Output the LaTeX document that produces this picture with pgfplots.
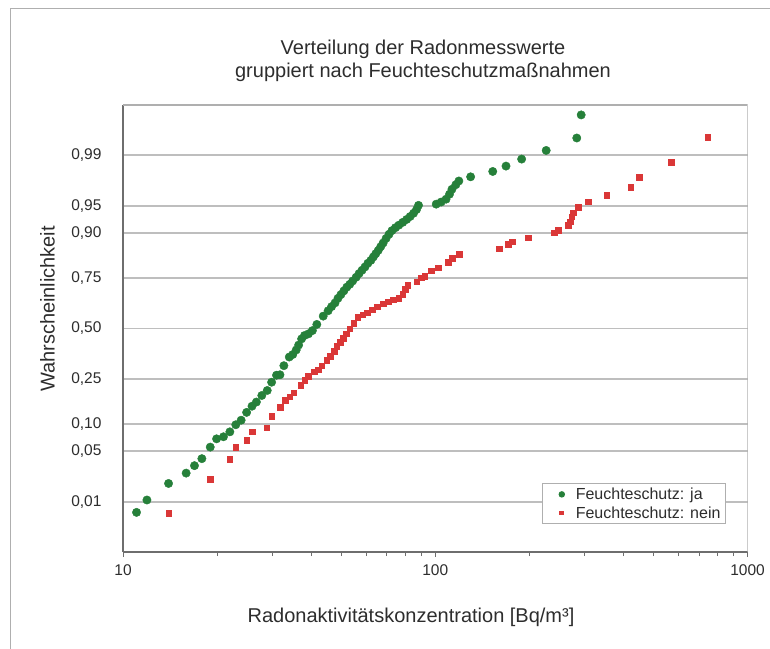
\documentclass[border=0pt]{standalone}
\usepackage{pgfplots}
\pgfplotsset{compat=1.18}
\usepackage{pgfplotstable}
\usepackage{fontspec}
\setmainfont{Liberation Sans}

\definecolor{gruen}{RGB}{38,128,58}
\definecolor{rot}{RGB}{218,55,55}
\definecolor{gitter}{RGB}{190,190,190}
\definecolor{achse}{RGB}{110,110,110}
\definecolor{rahmen}{RGB}{175,175,175}
\definecolor{schrift}{RGB}{45,45,45}

% x: Radonkonzentration [Bq/m3], z: Normalquantil der Wahrscheinlichkeit
\pgfplotstableread{
x z
11.05 -2.468
11.93 -2.302
13.99 -2.080
15.93 -1.941
16.94 -1.841
17.89 -1.747
19.03 -1.592
19.94 -1.481
20.98 -1.453
21.99 -1.387
22.97 -1.292
23.90 -1.231
24.88 -1.126
25.89 -1.043
26.74 -0.987
27.83 -0.899
28.97 -0.832
29.92 -0.721
31.02 -0.627
31.82 -0.621
32.75 -0.499
34.08 -0.383
34.97 -0.349
35.87 -0.288
36.52 -0.222
37.33 -0.139
38.14 -0.094
39.26 -0.072
40.42 -0.028
41.76 0.055
43.77 0.166
45.39 0.238
46.56 0.294
47.76 0.344
48.80 0.405
49.87 0.455
50.97 0.505
52.09 0.555
53.23 0.593
54.40 0.638
55.80 0.688
57.02 0.738
58.28 0.782
59.56 0.826
60.86 0.876
62.21 0.915
63.34 0.960
64.50 1.004
65.68 1.048
66.88 1.098
68.10 1.148
69.59 1.209
71.12 1.265
72.68 1.314
74.55 1.353
76.46 1.387
78.70 1.425
81.01 1.464
83.09 1.503
85.22 1.547
87.11 1.597
88.38 1.653
100.7 1.669
104.4 1.697
108.3 1.736
111.1 1.803
113.1 1.869
116.4 1.930
119.0 1.980
129.8 2.036
152.8 2.108
168.5 2.180
189.1 2.274
226.6 2.390
283.9 2.557
293.3 2.867
}\ja

\pgfplotstableread{
x z
13.99 -2.479
19.03 -2.024
21.99 -1.758
22.97 -1.597
24.88 -1.497
25.89 -1.387
28.86 -1.331
29.92 -1.181
31.82 -1.054
33.00 -0.960
34.21 -0.915
35.23 -0.860
37.06 -0.760
38.14 -0.693
39.26 -0.638
41.02 -0.582
42.22 -0.555
43.30 -0.499
44.90 -0.427
46.05 -0.372
47.41 -0.305
48.28 -0.238
49.52 -0.183
50.61 -0.128
51.91 -0.072
53.23 0.000
54.79 0.072
56.39 0.150
58.48 0.183
60.64 0.211
62.88 0.250
65.21 0.294
68.10 0.333
70.61 0.361
73.21 0.388
76.46 0.405
78.70 0.460
80.14 0.527
81.62 0.582
87.11 0.627
90.32 0.682
92.64 0.704
97.12 0.776
102.2 0.815
109.8 0.887
113.1 0.943
119.4 0.998
160.4 1.071
171.4 1.134
176.5 1.165
198.6 1.219
240.1 1.286
247.9 1.322
266.8 1.389
270.2 1.434
273.5 1.501
276.8 1.554
287.2 1.631
309.2 1.702
354.1 1.792
422.7 1.899
449.3 2.034
568.9 2.231
745.6 2.570
}\nein

\begin{document}
\begin{tikzpicture}
\useasboundingbox (-123pt,-96pt) rectangle (647pt,552pt);
\draw[draw=rahmen, line width=1pt] (-112pt,543pt) rectangle (700pt,-200pt);

\begin{axis}[
    at={(0pt,0pt)}, anchor=south west,
    scale only axis,
    width=624.5pt, height=447pt,
    xmode=log,
    xmin=10, xmax=1000,
    ymin=-3, ymax=3,
    axis lines*=left,
    axis line style={draw=achse, line width=1.3pt},
    xtick={10,100,1000},
    xticklabels={10,100,1000},
    minor xtick={20,30,40,50,60,70,80,90,200,300,400,500,600,700,800,900},
    tick align=outside,
    major tick length=5pt, minor tick length=4pt,
    x tick style={draw=achse, line width=0.8pt},
    ytick={-2.3263,-1.6449,-1.2816,-0.6745,0,0.6745,1.2816,1.6449,2.3263},
    yticklabels={{0,01},{0,05},{0,10},{0,25},{0,50},{0,75},{0,90},{0,95},{0,99}},
    y tick style={draw=none},
    ymajorgrids,
    major grid style={draw=gitter, line width=1.6pt},
    tick label style={font=\fontsize{15.5}{18}\selectfont, text=schrift},
    yticklabel style={xshift=-13pt},
    xticklabel style={yshift=-4.5pt},
    legend style={
        at={(0.9655,0.0626)}, anchor=south east,
        draw=rahmen, line width=1pt,
        font=\fontsize{16}{19}\selectfont, text=schrift,
        inner xsep=3pt, inner ysep=3pt, row sep=3.5pt,
        nodes={inner xsep=2pt, inner ysep=1pt},
        cells={anchor=west},
    },
    legend image code/.code={
        \path[draw=none, fill=none] (0pt,-2pt) rectangle (28pt,2pt);
        \draw[#1] plot[only marks] coordinates {(16pt,0pt)};
    },
]
\addplot[only marks, mark=*, mark size=4.2pt, color=gruen,
    mark options={draw=gruen, fill=gruen},
    legend image post style={mark size=2.7pt}]
    table[x=x, y=z] {\ja};
\addlegendentry{Feuchteschutz: ja}
\addplot[only marks, mark=square*, mark size=2.8pt, color=rot,
    mark options={draw=rot, fill=rot},
    legend image post style={mark size=1.9pt}]
    table[x=x, y=z] {\nein};
\addlegendentry{Feuchteschutz: nein}
\draw[draw=rahmen, line width=1.3pt] (rel axis cs:0,1) -- (rel axis cs:1,1) -- (rel axis cs:1,0);
\end{axis}

\node[font=\fontsize{20}{23.5}\selectfont, text=schrift, align=center] at (300pt,491pt)
    {Verteilung der Radonmesswerte\\gruppiert nach Feuchteschutzmaßnahmen};
\node[font=\fontsize{20}{24}\selectfont, text=schrift, rotate=90] at (-75.4pt,243pt) {Wahrscheinlichkeit};
\node[font=\fontsize{20}{24}\selectfont, text=schrift] at (288pt,-65pt) {Radonaktivitätskonzentration [Bq/m³]};
\end{tikzpicture}
\end{document}
